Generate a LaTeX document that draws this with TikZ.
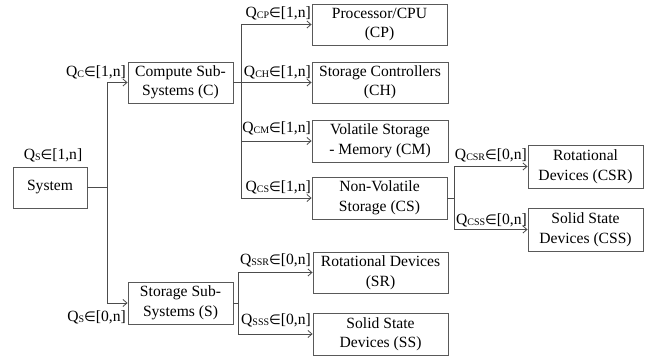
\documentclass[tikz,border=0pt]{standalone}
\usepackage{fontspec}
\setmainfont{Liberation Serif}
\newfontfamily\symfont{DejaVu Sans}
\usetikzlibrary{arrows.meta}
\newcommand{\qlab}[2]{Q\raisebox{-0.25ex}{\fontsize{10}{10}\selectfont #1}{\symfont\fontsize{13.5}{13.5}\selectfont ∈}[#2,n]}
\begin{document}
\begin{tikzpicture}[x=1pt,y=-1pt,
  box/.style={draw=black!65,line width=0.9pt,inner sep=0pt,align=center,
    font=\fontsize{15.6}{19.5}\selectfont},
  lab/.style={inner sep=0pt,font=\fontsize{15.6}{18}\selectfont},
  conn/.style={draw=black!70,line width=0.8pt},
  arr/.style={conn,-{Straight Barb[length=4pt,width=7pt]}}]
\useasboundingbox (0,0) rectangle (658,358);
% boxes
\node[box,minimum width=74pt,minimum height=41pt] (sys) at (50,187.5) {System};
\node[box,minimum width=105pt,minimum height=41pt] (C) at (180.5,82.5) {Compute Sub-\\Systems (C)};
\node[box,minimum width=105pt,minimum height=42pt] (S) at (180.5,303) {Storage Sub-\\Systems (S)};
\node[box,minimum width=135pt,minimum height=41pt] (CP) at (379.5,24.5) {Processor/CPU\\(CP)};
\node[box,minimum width=136pt,minimum height=41pt] (CH) at (380,82.5) {Storage Controllers\\(CH)};
\node[box,minimum width=136pt,minimum height=42pt] (CM) at (380,141) {Volatile Storage\\- Memory (CM)};
\node[box,minimum width=135pt,minimum height=42pt] (CS) at (379.5,198) {Non-Volatile\\Storage (CS)};
\node[box,minimum width=115pt,minimum height=43pt] (CSR) at (585.5,166.5) {Rotational\\Devices (CSR)};
\node[box,minimum width=115pt,minimum height=43pt] (CSS) at (585.5,229.5) {Solid State\\Devices (CSS)};
\node[box,minimum width=135pt,minimum height=41pt] (SR) at (380.5,272.5) {Rotational Devices\\(SR)};
\node[box,minimum width=135pt,minimum height=42pt] (SS) at (380.5,334) {Solid State\\Devices (SS)};
% junctions
\coordinate (j1) at (107,187.5);
\coordinate (j2) at (241,82.5);
\coordinate (j3) at (454,198);
\coordinate (j4) at (238,303);
% connectors
\draw[conn] (sys.east) -- (j1);
\draw[arr] (j1) |- (C.west);
\draw[arr] (j1) |- (S.west);
\draw[conn] (C.east) -- (j2);
\draw[arr] (j2) |- (CP.west);
\draw[arr] (j2) |- (CH.west);
\draw[arr] (j2) |- (CM.west);
\draw[arr] (j2) |- (CS.west);
\draw[conn] (CS.east) -- (j3);
\draw[arr] (j3) |- (CSR.west);
\draw[arr] (j3) |- (CSS.west);
\draw[conn] (S.east) -- (j4);
\draw[arr] (j4) |- (SR.west);
\draw[arr] (j4) |- (SS.west);
% labels
\node[lab] (lS1) at (53,155) {\qlab{S}{1}};
\node[lab,anchor=east] (lC) at (126,72) {\qlab{C}{1}};
\node[lab,anchor=east] (lS0) at (126,317) {\qlab{S}{0}};
\node[lab,anchor=east] (lCP) at (311,13) {\qlab{CP}{1}};
\node[lab,anchor=east] (lCH) at (311,72) {\qlab{CH}{1}};
\node[lab,anchor=east] (lCM) at (311,128) {\qlab{CM}{1}};
\node[lab,anchor=east] (lCS) at (311,187) {\qlab{CS}{1}};
\node[lab,anchor=east] (lCSR) at (527,155) {\qlab{CSR}{0}};
\node[lab,anchor=east] (lCSS) at (527,220) {\qlab{CSS}{0}};
\node[lab,anchor=east] (lSSR) at (311,260) {\qlab{SSR}{0}};
\node[lab,anchor=east] (lSSS) at (311,320) {\qlab{SSS}{0}};
\end{tikzpicture}
\end{document}
